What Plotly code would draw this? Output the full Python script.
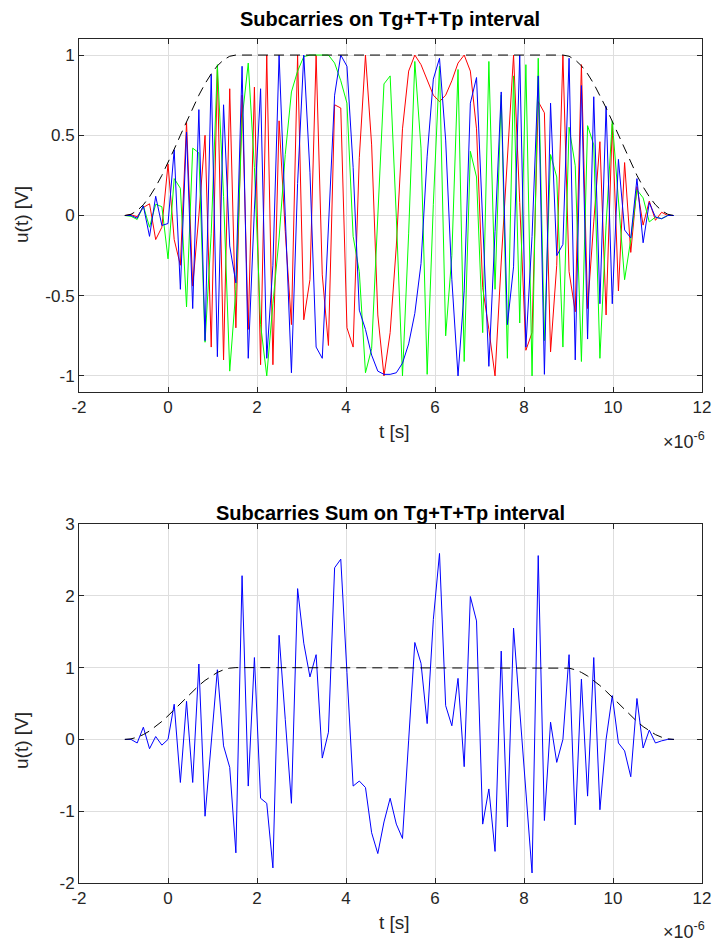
import numpy as np
import plotly.graph_objects as go

# ---------------- data ----------------
t_start_us = -0.97
t_end_us = 11.37
n_samples = 90

window = ([0.0, 0.0076, 0.0302, 0.0670, 0.1170, 0.1786, 0.2500, 0.3290, 0.4132, 0.5000,
           0.5868, 0.6710, 0.7500, 0.8214, 0.8830, 0.9330, 0.9698, 0.9924]
          + [1.0] * 54
          + [0.9924, 0.9698, 0.9330, 0.8830, 0.8214, 0.7500, 0.6710, 0.5868, 0.5000,
             0.4132, 0.3290, 0.2500, 0.1786, 0.1170, 0.0670, 0.0302, 0.0076, 0.0])

red = [0, 0.005, -0.008, 0.05, 0.073, -0.15, -0.073, 0.32, -0.15, -0.31,
       0.58, -0.44, 0.0, 0.5, -0.82, 0.91, -0.90, 0.79, -0.70, 0.75,
       -0.71, 0.80, -0.93, 1.0, -0.93, 0.59, -0.10, -0.68, 1.0, -0.65,
       -0.40, 1.0, -0.37, -0.81, 0.69, 0.67, -0.70, -0.82, 0.36, 1.0,
       0.44, -0.62, -1.0, -0.73, -0.19, 0.54, 0.90, 1.0, 0.94, 0.84,
       0.75, 0.71, 0.75, 0.84, 0.95, 1.0, 0.90, 0.54, -0.45, -0.71,
       -1.0, -0.29, 0.35, 1.0, 0.08, -0.84, -0.73, 0.71, 0.64, -0.85,
       -0.31, 1.0, -0.35, -0.60, 0.94, -0.58, -0.04, 0.46, -0.62, 0.57,
       -0.47, 0.33, -0.23, 0.18, -0.06, 0.09, -0.03, 0.02, 0.0, 0.0]

green = [0, -0.005, -0.025, 0.06, -0.073, 0.07, 0.055, -0.27, 0.23, 0.17,
         -0.57, 0.42, 0.39, -0.79, -0.11, 0.94, 0.12, -0.97, -0.46, 0.60,
         0.95, 0.30, -0.68, -1.0, -0.55, -0.14, 0.38, 0.77, 0.90, 0.99,
         1.0, 1.0, 1.0, 1.0, 0.95, 0.84, 0.70, -0.13, -0.35, -0.98,
         -0.83, 0.02, 0.82, 0.87, -0.01, -1.0, -0.11, 0.96, 0.42, -0.99,
         0.07, 0.93, -0.75, -0.25, 0.91, -0.91, 0.40, 0.24, -0.73, 0.96,
         -0.46, 0.75, -0.89, 0.87, -0.67, 0.94, -1.0, 0.98, -0.78, 0.38,
         0.24, -0.82, 0.55, 0.31, -0.91, 0.56, 0.44, -0.89, -0.06, 0.59,
         0.07, -0.40, -0.15, 0.16, 0.11, -0.04, -0.01, -0.02, 0.0, 0.0]

blue = [0, 0.0, -0.017, 0.06, -0.13, 0.12, -0.062, -0.05, 0.41, -0.46,
        0.52, -0.58, 0.66, -0.78, 0.88, -0.88, 0.69, -0.19, -0.42, 0.93,
        -0.89, 0.04, 0.79, -0.89, -0.31, 1.0, 0.0, -0.98, 0.2, 1.0,
        0.27, -0.82, -0.89, -0.09, 0.75, 1.0, 0.93, 0.30, -0.59, -0.71,
        -0.87, -0.97, -0.99, -0.99, -0.98, -0.92, -0.80, -0.61, -0.30, 0.37,
        0.85, 0.98, 0.47, -0.40, -1.0, -0.47, 0.70, 0.86, 0.0, -0.94,
        -0.10, 0.77, -0.68, -0.32, 1.0, -0.82, -0.13, 0.87, -0.99, 0.70,
        -0.25, -0.18, 0.98, -0.90, 0.81, -0.77, 0.74, -0.55, 0.68, -0.55,
        0.35, -0.09, -0.14, 0.23, -0.17, 0.08, -0.01, -0.02, 0.0, 0.0]

subcarrier_sum = [0, 0.0, -0.05, 0.17, -0.13, 0.04, -0.08, 0.0, 0.49, -0.60,
                  0.53, -0.60, 1.05, -1.07, -0.05, 0.97, -0.09, -0.39, -1.58, 2.28,
                  -0.65, 1.14, -0.82, -0.89, -1.79, 1.45, 0.28, -0.89, 2.10, 1.34,
                  0.87, 1.18, -0.26, 0.10, 2.39, 2.51, 0.93, -0.65, -0.58, -0.67,
                  -1.30, -1.59, -1.15, -0.82, -1.18, -1.38, -0.01, 1.35, 1.06, 0.22,
                  1.67, 2.59, 0.47, 0.19, 0.85, -0.38, 1.99, 1.65, -1.18, -0.69,
                  -1.56, 1.23, -1.22, 1.55, 0.41, -0.72, -1.86, 2.56, -1.13, 0.24,
                  -0.32, 0.0, 1.18, -1.19, 0.84, -0.79, 1.14, -0.98, 0.0, 0.61,
                  -0.05, -0.16, -0.52, 0.57, -0.12, 0.13, -0.05, -0.02, 0.0, 0.0]

x_ticks = [-2, 0, 2, 4, 6, 8, 10, 12]
x_tick_labels = ["-2", "0", "2", "4", "6", "8", "10", "12"]
y1_ticks = [-1, -0.5, 0, 0.5, 1]
y1_tick_labels = ["-1", "-0.5", "0", "0.5", "1"]
y2_ticks = [-2, -1, 0, 1, 2, 3]
y2_tick_labels = ["-2", "-1", "0", "1", "2", "3"]

t = np.linspace(t_start_us, t_end_us, n_samples) * 1e-6

# ---------------- figure ----------------
W, H = 715, 944
# plot-area edges in window pixels
PL, PR = 79, 702
TOP_T, TOP_B = 39, 392
BOT_T, BOT_B = 524, 883

ml = PL
mr = W - PR
mt = TOP_T
mb = H - BOT_B
ph = H - mt - mb
top_dom = [(BOT_B - TOP_B) / ph, 1.0]
bot_dom = [0.0, (BOT_B - BOT_T) / ph]

fig = go.Figure()
line_w = 1.0


def add_line(y, color, xa, ya, dash=None):
    fig.add_trace(go.Scatter(x=t, y=y, mode="lines", xaxis=xa, yaxis=ya,
                             line=dict(color=color, width=line_w, dash=dash),
                             hoverinfo="skip", showlegend=False))


add_line(red, "#ff0000", "x", "y")
add_line(green, "#00ff00", "x", "y")
add_line(blue, "#0000ff", "x", "y")
add_line(window, "#000000", "x", "y", dash="10px,6px")

add_line(subcarrier_sum, "#0000ff", "x2", "y2")
add_line(window, "#000000", "x2", "y2", dash="10px,6px")

font_family = "Liberation Sans, Arial, Helvetica, sans-serif"
axis_col = "#262626"
grid_col = "#dedede"
tick_size = 17

xcommon = dict(range=[-2e-6, 12e-6], tickvals=[v * 1e-6 for v in x_ticks],
               ticktext=x_tick_labels, showgrid=True, gridcolor=grid_col, gridwidth=1,
               zeroline=False, showline=True, linecolor=axis_col, linewidth=1,
               mirror="ticks", ticks="inside", ticklen=5, tickcolor=axis_col,
               tickfont=dict(family=font_family, size=tick_size, color=axis_col),
               automargin=False)
ycommon = dict(showgrid=True, gridcolor=grid_col, gridwidth=1, zeroline=False,
               showline=True, linecolor=axis_col, linewidth=1, mirror="ticks",
               ticks="inside", ticklen=5, tickcolor=axis_col,
               tickfont=dict(family=font_family, size=tick_size, color=axis_col),
               automargin=False)

fig.update_layout(
    width=W, height=H, plot_bgcolor="white", paper_bgcolor="white",
    margin=dict(l=ml, r=mr, t=mt, b=mb, autoexpand=False),
    xaxis=dict(domain=[0, 1], anchor="y", **xcommon),
    yaxis=dict(domain=top_dom, anchor="x", range=[-1.1, 1.1],
               tickvals=y1_ticks, ticktext=y1_tick_labels, **ycommon),
    xaxis2=dict(domain=[0, 1], anchor="y2", **xcommon),
    yaxis2=dict(domain=bot_dom, anchor="x2", range=[-2, 3],
                tickvals=y2_ticks, ticktext=y2_tick_labels, **ycommon),
    font=dict(family=font_family, color=axis_col),
)

ann = []


def px_x(px):
    return (px - PL) / (PR - PL)


def px_y(py):
    return (BOT_B - py) / (BOT_B - TOP_T)


ann.append(dict(text="<b>Subcarries on Tg+T+Tp interval</b>", x=px_x(390), y=px_y(19),
                xref="paper", yref="paper", showarrow=False, xanchor="center", yanchor="middle",
                font=dict(size=20, color="#000000", family=font_family)))
ann.append(dict(text="<b>Subcarries Sum on Tg+T+Tp interval</b>", x=px_x(390), y=px_y(513),
                xref="paper", yref="paper", showarrow=False, xanchor="center", yanchor="middle",
                font=dict(size=20, color="#000000", family=font_family)))
for yy in (432, 922):
    ann.append(dict(text="t [s]", x=px_x(394), y=px_y(yy), xref="paper", yref="paper",
                    showarrow=False, xanchor="center", yanchor="middle",
                    font=dict(size=19, color=axis_col, family=font_family)))
for yy in (440, 931):
    ann.append(dict(text="×10<sup>-6</sup>", x=px_x(707), y=px_y(yy), xref="paper", yref="paper",
                    showarrow=False, xanchor="right", yanchor="middle",
                    font=dict(size=18, color=axis_col, family=font_family)))
for yy in (215, 741):
    ann.append(dict(text="u(t) [V]", x=px_x(21), y=px_y(yy), xref="paper", yref="paper",
                    showarrow=False, xanchor="center", yanchor="middle", textangle=-90,
                    font=dict(size=19, color=axis_col, family=font_family)))
fig.update_layout(annotations=ann)

# remove the browser's default page margin so the figure sits at the window origin
fig.write_html("out.html",
               config={"displayModeBar": False},
               post_script="document.body.style.margin='0';document.body.style.overflow='hidden';")
